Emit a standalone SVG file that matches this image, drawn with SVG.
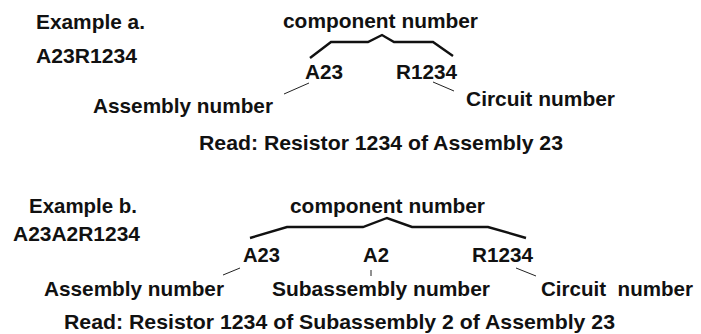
<svg xmlns="http://www.w3.org/2000/svg" width="701" height="334" viewBox="0 0 701 334">
<style>
text{font-family:"Liberation Sans",Arial,sans-serif;font-weight:bold;font-size:20.5px;fill:#111;white-space:pre}
.brace{fill:none;stroke:#111;stroke-width:2.4;stroke-linejoin:miter}
.lead{fill:none;stroke:#222;stroke-width:1}
</style>
<rect width="701" height="334" fill="#fff"/>
<g id="example-a">
<text id="title-a" x="36" y="29" textLength="109" lengthAdjust="spacingAndGlyphs">Example a.</text>
<text id="code-a" x="36" y="63" textLength="101" lengthAdjust="spacingAndGlyphs">A23R1234</text>
<g id="comp-a"><text x="283" y="28" textLength="195" lengthAdjust="spacingAndGlyphs">component number</text></g>
<g id="a23-a"><text x="305" y="79" textLength="38" lengthAdjust="spacingAndGlyphs">A23</text></g>
<g id="r1234-a"><text x="396" y="79" textLength="61" lengthAdjust="spacingAndGlyphs">R1234</text></g>
<g id="asm-a"><text x="93" y="113" textLength="180" lengthAdjust="spacingAndGlyphs">Assembly number</text></g>
<g id="circ-a"><text x="466" y="106" textLength="149" lengthAdjust="spacingAndGlyphs">Circuit number</text></g>
<text id="read-a" x="199" y="150" textLength="364" lengthAdjust="spacingAndGlyphs">Read: Resistor 1234 of Assembly 23</text>
</g>
<g id="example-b">
<text id="title-b" x="29" y="213" textLength="108" lengthAdjust="spacingAndGlyphs">Example b.</text>
<text id="code-b" x="13" y="241" textLength="127" lengthAdjust="spacingAndGlyphs">A23A2R1234</text>
<g id="comp-b"><text x="290" y="213" textLength="195" lengthAdjust="spacingAndGlyphs">component number</text></g>
<g id="a23-b"><text x="243" y="262" textLength="37" lengthAdjust="spacingAndGlyphs">A23</text></g>
<g id="a2-b"><text x="363" y="262" textLength="26" lengthAdjust="spacingAndGlyphs">A2</text></g>
<g id="r1234-b"><text x="472" y="262" textLength="61" lengthAdjust="spacingAndGlyphs">R1234</text></g>
<g id="asm-b"><text x="44" y="296" textLength="180" lengthAdjust="spacingAndGlyphs">Assembly number</text></g>
<g id="sub-b"><text x="272" y="296" textLength="218" lengthAdjust="spacingAndGlyphs">Subassembly number</text></g>
<g id="circ-b"><text x="541" y="296" textLength="152" lengthAdjust="spacingAndGlyphs">Circuit  number</text></g>
<text id="read-b" x="64" y="329" textLength="551" lengthAdjust="spacingAndGlyphs">Read: Resistor 1234 of Subassembly 2 of Assembly 23</text>
</g>
<g id="connectors">
<polyline class="brace" points="310,58 331,42 368,42 382,35 394,42 433,42 453,56"/>
<line class="lead" x1="284" y1="94" x2="309" y2="83"/>
<line class="lead" x1="433" y1="82" x2="454" y2="91"/>
<polyline class="brace" points="250,238 287,227 363,227 387,218 412,227 488,227 526,238"/>
<line class="lead" x1="223" y1="275" x2="240" y2="268"/>
<line class="lead" x1="371" y1="270" x2="371" y2="276" stroke="#888"/>
<line class="lead" x1="516" y1="268" x2="536" y2="276"/>
</g>
</svg>
